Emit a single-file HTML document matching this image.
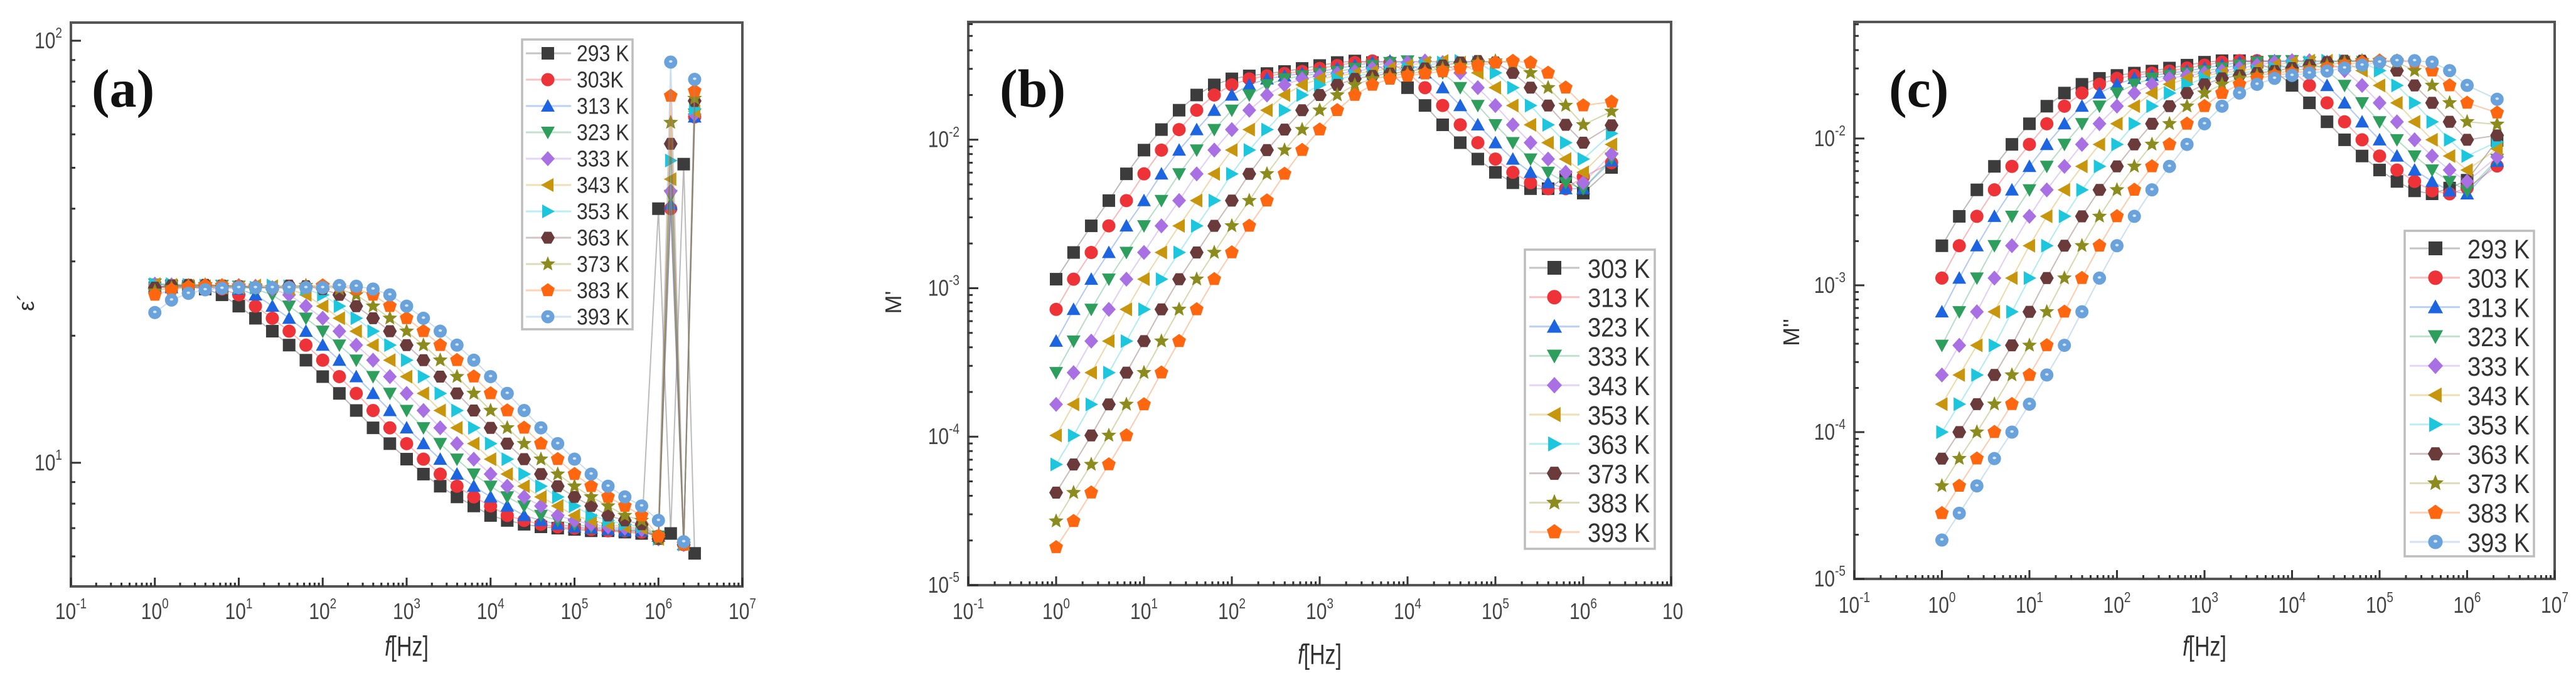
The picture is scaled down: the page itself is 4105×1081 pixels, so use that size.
<!DOCTYPE html>
<html><head><meta charset="utf-8"><title>Dielectric spectra</title>
<style>html,body{margin:0;padding:0;background:#fff;}svg{display:block;}</style></head>
<body>
<svg id="fig" xmlns="http://www.w3.org/2000/svg" width="4105" height="1081" viewBox="0 0 4105 1081" font-family="Liberation Sans, sans-serif"></svg>
<script>
// ---------- DATA ----------
const freqA = [1,1.58,2.51,3.98,6.31,10,15.8,25.1,39.8,63.1,100,158,251,398,631,1000,1585,2512,3981,6310,1e4,1.58e4,2.51e4,3.98e4,6.31e4,1e5,1.58e5,2.51e5,3.98e5,6.31e5,1e6,1.4e6,2e6,2.7e6];
const labelsA = ['293 K','303K','313 K','323 K','333 K','343 K','353 K','363 K','373 K','383 K','393 K'];
const a293 = [26,26.3,26.2,25.8,25,23.5,22,20.5,19,17.5,16,14.6,13.3,12.1,11.1,10.2,9.4,8.8,8.3,7.9,7.5,7.3,7.15,7.05,7.0,6.95,6.9,6.9,6.85,6.8,40,6.8,51,6.1];
const a303 = [26,26,26.3,26.2,25.8,25,23.5,22,20.5,19,17.5,16,14.6,13.3,12.1,11.1,10.2,9.4,8.8,8.3,7.9,7.5,7.3,7.15,7.05,7.0,6.95,6.9,6.9,6.85,6.7,40,6.4,66];
const a313 = [26.2,26,26,26.3,26.2,25.8,25,23.5,22,20.5,19,17.5,16,14.6,13.3,12.1,11.1,10.2,9.4,8.8,8.3,7.9,7.5,7.3,7.15,7.05,7.0,6.95,6.9,6.9,6.7,41,6.4,66];
const a323 = [26.5,26.2,26,26,26.3,26.2,25.8,25,23.5,22,20.5,19,17.5,16,14.6,13.3,12.1,11.1,10.2,9.4,8.8,8.3,7.9,7.5,7.3,7.15,7.05,7.0,6.95,6.9,6.7,43,6.4,67];
const a333 = [26.5,26.4,26.2,26,26,26.3,26.2,25.8,25,23.5,22,20.5,19,17.5,16,14.6,13.3,12.1,11.1,10.2,9.4,8.8,8.3,7.9,7.5,7.3,7.15,7.05,7.0,6.95,6.6,44,6.4,67];
const a343 = [26.5,26.4,26.3,26.2,26,26,26.3,26.2,25.8,25,23.5,22,20.5,19,17.5,16,14.6,13.3,12.1,11.1,10.2,9.4,8.8,8.3,7.9,7.5,7.3,7.15,7.05,7.0,6.6,47,6.4,68];
const a353 = [26.5,26.5,26.4,26.3,26.2,26,26,26.3,26.2,25.8,25,23.5,22,20.5,19,17.5,16,14.6,13.3,12.1,11.1,10.2,9.4,8.8,8.3,7.9,7.5,7.3,7.15,7.05,6.6,52,6.4,69];
const a363 = [26,26.3,26.4,26.4,26.3,26.2,26,26,26.3,26.2,25.8,25,23.5,22,20.5,19,17.5,16,14.6,13.3,12.1,11.1,10.2,9.4,8.8,8.3,7.9,7.5,7.3,7.15,6.6,57,6.4,72];
const a373 = [25.5,26,26.3,26.4,26.3,26.2,26,26,26,26.3,26.2,25.8,25,23.5,22,20.5,19,17.5,16,14.6,13.3,12.1,11.1,10.2,9.4,8.8,8.3,7.9,7.5,7.3,6.6,64,6.4,73];
const a383 = [25,25.7,26.1,26.3,26.3,26.2,26.1,26,26,26,26.3,26.2,25.8,25,23.5,22,20.5,19,17.5,16,14.6,13.3,12.1,11.1,10.2,9.4,8.8,8.3,7.9,7.5,6.7,74,6.4,76];
const a393 = [22.7,24.3,25.2,25.7,25.9,26,26,26,26,26,26,26.3,26.2,25.8,25,23.5,22,20.5,19,17.5,16,14.6,13.3,12.1,11.1,10.2,9.4,8.8,8.3,7.9,7.3,89,6.5,81];

const freqB = [1,1.58,2.51,3.98,6.31,10,15.8,25.1,39.8,63.1,100,158,251,398,631,1000,1585,2512,3981,6310,1e4,1.58e4,2.51e4,3.98e4,6.31e4,1e5,1.58e5,2.51e5,3.98e5,6.31e5,1e6,2.1e6];
const labelsB = ['303 K','313 K','323 K','333 K','343 K','353 K','363 K','373 K','383 K','393 K'];
const b303 = [1.15e-3,1.74e-3,2.63e-3,3.89e-3,5.89e-3,8.51e-3,0.0117,0.0158,0.020,0.0234,0.0257,0.0269,0.0279,0.0288,0.0302,0.0316,0.0331,0.0339,0.0331,0.0282,0.0224,0.0170,0.0126,0.00955,0.00741,0.00603,0.00513,0.00468,0.00468,0.00562,0.00437,0.0065];
const b313 = [7.2e-4,1.15e-3,1.74e-3,2.63e-3,3.89e-3,5.89e-3,8.51e-3,0.0117,0.0158,0.020,0.0234,0.0257,0.0269,0.0279,0.0288,0.0302,0.0316,0.0331,0.0339,0.0331,0.0282,0.0224,0.0170,0.0126,0.00955,0.00741,0.00603,0.00513,0.00468,0.00468,0.00562,0.007];
const b323 = [4.4e-4,7.2e-4,1.15e-3,1.74e-3,2.63e-3,3.89e-3,5.89e-3,8.51e-3,0.0117,0.0158,0.020,0.0234,0.0257,0.0269,0.0279,0.0288,0.0302,0.0316,0.0331,0.0339,0.0331,0.0282,0.0224,0.0170,0.0126,0.00955,0.00741,0.00603,0.00513,0.00468,0.00468,0.0072];
const b333 = [2.7e-4,4.4e-4,7.2e-4,1.15e-3,1.74e-3,2.63e-3,3.89e-3,5.89e-3,8.51e-3,0.0117,0.0158,0.020,0.0234,0.0257,0.0269,0.0279,0.0288,0.0302,0.0316,0.0331,0.0339,0.0331,0.0282,0.0224,0.0170,0.0126,0.00955,0.00741,0.00603,0.00513,0.00468,0.0075];
const b343 = [1.65e-4,2.7e-4,4.4e-4,7.2e-4,1.15e-3,1.74e-3,2.63e-3,3.89e-3,5.89e-3,8.51e-3,0.0117,0.0158,0.020,0.0234,0.0257,0.0269,0.0279,0.0288,0.0302,0.0316,0.0331,0.0339,0.0331,0.0282,0.0224,0.0170,0.0126,0.00955,0.00741,0.00603,0.00513,0.008];
const b353 = [1.02e-4,1.65e-4,2.7e-4,4.4e-4,7.2e-4,1.15e-3,1.74e-3,2.63e-3,3.89e-3,5.89e-3,8.51e-3,0.0117,0.0158,0.020,0.0234,0.0257,0.0269,0.0279,0.0288,0.0302,0.0316,0.0331,0.0339,0.0331,0.0282,0.0224,0.0170,0.0126,0.00955,0.00741,0.00603,0.0093];
const b363 = [6.5e-5,1.02e-4,1.65e-4,2.7e-4,4.4e-4,7.2e-4,1.15e-3,1.74e-3,2.63e-3,3.89e-3,5.89e-3,8.51e-3,0.0117,0.0158,0.020,0.0234,0.0257,0.0269,0.0279,0.0288,0.0302,0.0316,0.0331,0.0339,0.0331,0.0282,0.0224,0.0170,0.0126,0.00955,0.00741,0.011];
const b373 = [4.2e-5,6.5e-5,1.02e-4,1.65e-4,2.7e-4,4.4e-4,7.2e-4,1.15e-3,1.74e-3,2.63e-3,3.89e-3,5.89e-3,8.51e-3,0.0117,0.0158,0.020,0.0234,0.0257,0.0269,0.0279,0.0288,0.0302,0.0316,0.0331,0.0339,0.0331,0.0282,0.0224,0.0170,0.0126,0.00955,0.0125];
const b383 = [2.7e-5,4.2e-5,6.5e-5,1.02e-4,1.65e-4,2.7e-4,4.4e-4,7.2e-4,1.15e-3,1.74e-3,2.63e-3,3.89e-3,5.89e-3,8.51e-3,0.0117,0.0158,0.020,0.0234,0.0257,0.0269,0.0279,0.0288,0.0302,0.0316,0.0331,0.0339,0.0331,0.0282,0.0224,0.0170,0.0126,0.0155];
const b393 = [1.8e-5,2.7e-5,4.2e-5,6.5e-5,1.02e-4,1.65e-4,2.7e-4,4.4e-4,7.2e-4,1.15e-3,1.74e-3,2.63e-3,3.89e-3,5.89e-3,8.51e-3,0.0117,0.0158,0.020,0.0234,0.0257,0.0269,0.0279,0.0288,0.0302,0.0316,0.0331,0.0339,0.0331,0.0282,0.0224,0.0170,0.018];

const freqC = [1,1.58,2.51,3.98,6.31,10,15.8,25.1,39.8,63.1,100,158,251,398,631,1000,1585,2512,3981,6310,1e4,1.58e4,2.51e4,3.98e4,6.31e4,1e5,1.58e5,2.51e5,3.98e5,6.31e5,1e6,2.2e6];
const labelsC = ['293 K','303 K','313 K','323 K','333 K','343 K','353 K','363 K','373 K','383 K','393 K'];
const c293 = [1.86e-3,2.95e-3,4.47e-3,6.46e-3,9.12e-3,0.0126,0.0166,0.0204,0.0234,0.0257,0.0269,0.0279,0.0288,0.0302,0.0316,0.0331,0.0339,0.0339,0.0331,0.029,0.023,0.0175,0.013,0.0098,0.0076,0.0061,0.0051,0.0044,0.0042,0.0046,0.0052,0.0097];
const c303 = [1.12e-3,1.86e-3,2.95e-3,4.47e-3,6.46e-3,9.12e-3,0.0126,0.0166,0.0204,0.0234,0.0257,0.0269,0.0279,0.0288,0.0302,0.0316,0.0331,0.0339,0.0339,0.0331,0.029,0.023,0.0175,0.013,0.0098,0.0076,0.0061,0.0051,0.0044,0.0042,0.0046,0.0065];
const c313 = [6.6e-4,1.12e-3,1.86e-3,2.95e-3,4.47e-3,6.46e-3,9.12e-3,0.0126,0.0166,0.0204,0.0234,0.0257,0.0269,0.0279,0.0288,0.0302,0.0316,0.0331,0.0339,0.0339,0.0331,0.029,0.023,0.0175,0.013,0.0098,0.0076,0.0061,0.0051,0.0044,0.0042,0.007];
const c323 = [3.9e-4,6.6e-4,1.12e-3,1.86e-3,2.95e-3,4.47e-3,6.46e-3,9.12e-3,0.0126,0.0166,0.0204,0.0234,0.0257,0.0269,0.0279,0.0288,0.0302,0.0316,0.0331,0.0339,0.0339,0.0331,0.029,0.023,0.0175,0.013,0.0098,0.0076,0.0061,0.0051,0.0044,0.0072];
const c333 = [2.45e-4,3.9e-4,6.6e-4,1.12e-3,1.86e-3,2.95e-3,4.47e-3,6.46e-3,9.12e-3,0.0126,0.0166,0.0204,0.0234,0.0257,0.0269,0.0279,0.0288,0.0302,0.0316,0.0331,0.0339,0.0339,0.0331,0.029,0.023,0.0175,0.013,0.0098,0.0076,0.0061,0.0051,0.0075];
const c343 = [1.55e-4,2.45e-4,3.9e-4,6.6e-4,1.12e-3,1.86e-3,2.95e-3,4.47e-3,6.46e-3,9.12e-3,0.0126,0.0166,0.0204,0.0234,0.0257,0.0269,0.0279,0.0288,0.0302,0.0316,0.0331,0.0339,0.0339,0.0331,0.029,0.023,0.0175,0.013,0.0098,0.0076,0.0061,0.0085];
const c353 = [1.0e-4,1.55e-4,2.45e-4,3.9e-4,6.6e-4,1.12e-3,1.86e-3,2.95e-3,4.47e-3,6.46e-3,9.12e-3,0.0126,0.0166,0.0204,0.0234,0.0257,0.0269,0.0279,0.0288,0.0302,0.0316,0.0331,0.0339,0.0339,0.0331,0.029,0.023,0.0175,0.013,0.0098,0.0076,0.0095];
const c363 = [6.6e-5,1.0e-4,1.55e-4,2.45e-4,3.9e-4,6.6e-4,1.12e-3,1.86e-3,2.95e-3,4.47e-3,6.46e-3,9.12e-3,0.0126,0.0166,0.0204,0.0234,0.0257,0.0269,0.0279,0.0288,0.0302,0.0316,0.0331,0.0339,0.0339,0.0331,0.029,0.023,0.0175,0.013,0.0098,0.0105];
const c373 = [4.3e-5,6.6e-5,1.0e-4,1.55e-4,2.45e-4,3.9e-4,6.6e-4,1.12e-3,1.86e-3,2.95e-3,4.47e-3,6.46e-3,9.12e-3,0.0126,0.0166,0.0204,0.0234,0.0257,0.0269,0.0279,0.0288,0.0302,0.0316,0.0331,0.0339,0.0339,0.0331,0.029,0.023,0.0175,0.013,0.0125];
const c383 = [2.8e-5,4.3e-5,6.6e-5,1.0e-4,1.55e-4,2.45e-4,3.9e-4,6.6e-4,1.12e-3,1.86e-3,2.95e-3,4.47e-3,6.46e-3,9.12e-3,0.0126,0.0166,0.0204,0.0234,0.0257,0.0269,0.0279,0.0288,0.0302,0.0316,0.0331,0.0339,0.0339,0.0331,0.029,0.023,0.0175,0.015];
const c393 = [1.84e-5,2.8e-5,4.3e-5,6.6e-5,1.0e-4,1.55e-4,2.45e-4,3.9e-4,6.6e-4,1.12e-3,1.86e-3,2.95e-3,4.47e-3,6.46e-3,9.12e-3,0.0126,0.0166,0.0204,0.0234,0.0257,0.0269,0.0279,0.0288,0.0302,0.0316,0.0331,0.0339,0.0339,0.0331,0.029,0.023,0.0185];

const seriesA = [a293,a303,a313,a323,a333,a343,a353,a363,a373,a383,a393];
const seriesB = [b303,b313,b323,b333,b343,b353,b363,b373,b383,b393];
const seriesC = [c293,c303,c313,c323,c333,c343,c353,c363,c373,c383,c393];
const decadesX = [-1,0,1,2,3,4,5,6,7];

// ---------- STYLE ----------
const COLORS = ['#3c3c3c','#ee3338','#1c64e0','#2e9e5c','#a970e4','#c8960c','#1cc6dc','#6b3b3b','#8c8c1e','#ff6610','#6aa2dc'];
const SHAPES = ['square','circle','up','down','diamond','left','right','hex','star','pent','ball'];
const NS = 'http://www.w3.org/2000/svg';
const svg = document.getElementById('fig');

function mk(tag, attrs, parent){
  const e = document.createElementNS(NS, tag);
  for (const k in attrs) e.setAttribute(k, attrs[k]);
  (parent || svg).appendChild(e);
  return e;
}
function poly(pts){ return pts.map(p=>p[0].toFixed(1)+','+p[1].toFixed(1)).join(' '); }
function marker(parent, shape, color, cx, cy, s){
  let e;
  const h = s/2;
  if (shape==='square') e = mk('rect',{x:cx-h,y:cy-h,width:s,height:s,fill:color},parent);
  else if (shape==='circle') e = mk('circle',{cx:cx,cy:cy,r:h*1.05,fill:color},parent);
  else if (shape==='ball'){
    e = mk('circle',{cx:cx,cy:cy,r:h*1.05,fill:color},parent);
    const hl = mk('ellipse',{cx:cx,cy:cy-1,rx:h*0.28,ry:h*0.2,fill:'#d6e6f6'},parent);
    
    
  }
  else if (shape==='up') e = mk('polygon',{points:poly([[cx,cy-h*1.1],[cx+h*1.1,cy+h*0.9],[cx-h*1.1,cy+h*0.9]]),fill:color},parent);
  else if (shape==='down') e = mk('polygon',{points:poly([[cx,cy+h*1.1],[cx+h*1.1,cy-h*0.9],[cx-h*1.1,cy-h*0.9]]),fill:color},parent);
  else if (shape==='left') e = mk('polygon',{points:poly([[cx-h*1.1,cy],[cx+h*0.9,cy-h*1.1],[cx+h*0.9,cy+h*1.1]]),fill:color},parent);
  else if (shape==='right') e = mk('polygon',{points:poly([[cx+h*1.1,cy],[cx-h*0.9,cy-h*1.1],[cx-h*0.9,cy+h*1.1]]),fill:color},parent);
  else if (shape==='diamond') e = mk('polygon',{points:poly([[cx,cy-h*1.2],[cx+h*1.1,cy],[cx,cy+h*1.2],[cx-h*1.1,cy]]),fill:color},parent);
  else if (shape==='hex'){ const p=[]; for(let i=0;i<6;i++){const a=Math.PI/3*i; p.push([cx+h*1.1*Math.cos(a),cy+h*1.1*Math.sin(a)]);} e = mk('polygon',{points:poly(p),fill:color},parent); }
  else if (shape==='pent'){ const p=[]; for(let i=0;i<5;i++){const a=-Math.PI/2+2*Math.PI/5*i; p.push([cx+h*1.15*Math.cos(a),cy+h*1.15*Math.sin(a)]);} e = mk('polygon',{points:poly(p),fill:color},parent); }
  else if (shape==='star'){ const p=[]; for(let i=0;i<10;i++){const a=-Math.PI/2+Math.PI/5*i; const r=(i%2?0.55:1.25)*h; p.push([cx+r*Math.cos(a),cy+r*Math.sin(a)]);} e = mk('polygon',{points:poly(p),fill:color},parent); }
  return e;
}
function txt(parent, x, y, str, size, opts){
  opts = opts || {};
  const g = mk('g',{transform:'translate('+x+','+y+') scale(1,'+(opts.sy||1)+')'},parent);
  const t = mk('text',{x:0,y:0,'font-size':size,fill:opts.fill||'#333','text-anchor':opts.anchor||'start','dominant-baseline':'central','font-family':opts.family||'Liberation Sans, sans-serif','font-weight':opts.weight||'normal'},g);
  t.textContent = str;
  return t;
}
function pow10Label(parent, x, y, exp, anchor, nm){
  const g = mk('g',{transform:'translate('+x+','+y+') scale(1,1.2)'},parent);
  
  
  const t = mk('text',{x:0,y:10,'font-size':30,fill:'#444','text-anchor':anchor},g);
  t.textContent = '10';
  const s = mk('tspan',{dy:-14,'font-size':19},t);
  s.textContent = String(exp);
  return g;
}

function drawPanel(cfg){
  const P = mk('g',{});
  
  
  const X = v => cfg.x0 + (Math.log10(v)-cfg.lx0)/(cfg.lx1-cfg.lx0)*(cfg.x1-cfg.x0);
  const Y = v => cfg.yb - (Math.log10(v)-cfg.ly0)/(cfg.ly1-cfg.ly0)*(cfg.yb-cfg.yt);

  const plotArea = mk('g',{},P);
  
  
  cfg.series.forEach((vals, k)=>{
    const sg = mk('g',{},plotArea);
    
    
    const si = cfg.styleOffset + k;
    const pts = vals.map((v,i)=>[X(cfg.freq[i]),Y(v)]);
    const ln = mk('polyline',{points:poly(pts),fill:'none',stroke:COLORS[si],'stroke-opacity':0.35,'stroke-width':2},sg);
    
    
    pts.forEach(p=>{
      const m = marker(sg, SHAPES[si], COLORS[si], p[0], p[1], cfg.ms);
      
      
    });
  });

  const fr = mk('rect',{x:cfg.x0,y:cfg.yt,width:cfg.x1-cfg.x0,height:cfg.yb-cfg.yt,fill:'none',stroke:'#555','stroke-width':4},P);
  
  

  const xa = mk('g',{},P);
  
  
  decadesX.forEach(d=>{
    const x = X(Math.pow(10,d));
    mk('line',{x1:x,y1:cfg.yb,x2:x,y2:cfg.yb-14,stroke:'#333','stroke-width':3},xa);
    if (d<7) for(let m=2;m<10;m++){ const xm = X(m*Math.pow(10,d)); mk('line',{x1:xm,y1:cfg.yb,x2:xm,y2:cfg.yb-6,stroke:'#333','stroke-width':3},xa); }
    if (cfg.cutLast && d===7){
      const g = mk('g',{transform:'translate('+(x-14)+','+cfg.xly+') scale(1,1.2)'},xa);
      
      
      const t = mk('text',{x:0,y:10,'font-size':30,fill:'#444'},g);
      t.textContent='10';
    } else {
      pow10Label(xa, x, cfg.xly, d, 'middle', 'x-tick-label');
    }
  });
  const ya = mk('g',{},P);
  
  
  for(let d=Math.floor(cfg.ly0); d<=Math.ceil(cfg.ly1); d++){
    const yv = Math.pow(10,d);
    if (Math.log10(yv)>=cfg.ly0-1e-6 && Math.log10(yv)<=cfg.ly1){
      const y = Y(yv);
      mk('line',{x1:cfg.x0,y1:y,x2:cfg.x0+16,y2:y,stroke:'#333','stroke-width':3},ya);
      pow10Label(ya, cfg.x0-14, y, d, 'end', 'y-tick-label');
    }
    for(let m=2;m<10;m++){
      const lv = Math.log10(m*yv);
      if (lv>cfg.ly0 && lv<cfg.ly1){ const y=Y(m*yv); mk('line',{x1:cfg.x0,y1:y,x2:cfg.x0+7,y2:y,stroke:'#333','stroke-width':3},ya); }
    }
  }

  const xt = mk('g',{transform:'translate('+((cfg.x0+cfg.x1)/2)+','+cfg.xty+') scale(1,1.3)'},P);
  
  
  const xtt = mk('text',{x:0,y:12,'font-size':34,fill:'#333','text-anchor':'middle'},xt);
  const fi = mk('tspan',{'font-style':'italic'},xtt); fi.textContent='f';
  const hz = mk('tspan',{},xtt); hz.textContent='[Hz]';

  const yt = mk('g',{transform:'translate('+cfg.ytx+','+cfg.yty+') rotate(-90)'},P);
  
  
  const ytt = mk('text',{x:0,y:12,'font-size':36,fill:'#333','text-anchor':'middle'},yt);
  ytt.textContent = cfg.ytitle;

  const pl = mk('text',{x:cfg.plx,y:170,'font-size':86,'font-family':'Liberation Serif, serif','font-weight':'bold',fill:'#111'},P);
  
  
  pl.textContent = cfg.letter;

  const L = cfg.legend;
  const lg = mk('g',{},P);
  
  
  const lb = mk('rect',{x:L.x0,y:L.y0,width:L.x1-L.x0,height:L.y1-L.y0,fill:'#fff',stroke:'#bdbdbd','stroke-width':3.5},lg);
  
  
  cfg.labels.forEach((lab,k)=>{
    const si = cfg.styleOffset + k;
    const y = L.first + k*L.step;
    const eg = mk('g',{},lg);
    
    
    mk('line',{x1:L.lx0,y1:y,x2:L.lx1,y2:y,stroke:COLORS[si],'stroke-opacity':0.3,'stroke-width':3},eg);
    marker(eg, SHAPES[si], COLORS[si], L.mx, y, L.ms);
    txt(eg, L.tx, y+1, lab, L.fs, {sy:1.12,fill:'#333'});
  });
}

drawPanel({name:'panel-a-permittivity',x0:113,x1:1183,lx0:-1,lx1:7,yt:36,yb:935,ly0:0.707,ly1:2.043,
  freq:freqA,series:seriesA,labels:labelsA,styleOffset:0,ms:20,xly:975,xty:1030,ytx:42,yty:482,ytitle:'ε´',plx:146,letter:'(a)',
  legend:{x0:832,x1:1008,y0:63,y1:525,first:85,step:42,lx0:838,lx1:910,mx:873,ms:20,tx:919,fs:32}});
drawPanel({name:'panel-b-real-modulus',x0:1543,x1:2663,lx0:-1,lx1:7,yt:35,yb:933,ly0:-5,ly1:-1.207,cutLast:true,
  freq:freqB,series:seriesB,labels:labelsB,styleOffset:0,ms:20,xly:975,xty:1043,ytx:1424,yty:482,ytitle:"M'",plx:1593,letter:'(b)',
  legend:{x0:2430,x1:2637,y0:398,y1:875,first:427,step:46.8,lx0:2437,lx1:2517,mx:2477,ms:22,tx:2530,fs:38}});
drawPanel({name:'panel-c-imaginary-modulus',x0:2955,x1:4071,lx0:-1,lx1:7,yt:35,yb:923,ly0:-5,ly1:-1.206,
  freq:freqC,series:seriesC,labels:labelsC,styleOffset:0,ms:20,xly:965,xty:1030,ytx:2855,yty:530,ytitle:"M''",plx:3010,letter:'(c)',
  legend:{x0:3832,x1:4038,y0:368,y1:887,first:396,step:46.8,lx0:3840,lx1:3920,mx:3881,ms:22,tx:3932,fs:38}});
</script>
</body></html>
